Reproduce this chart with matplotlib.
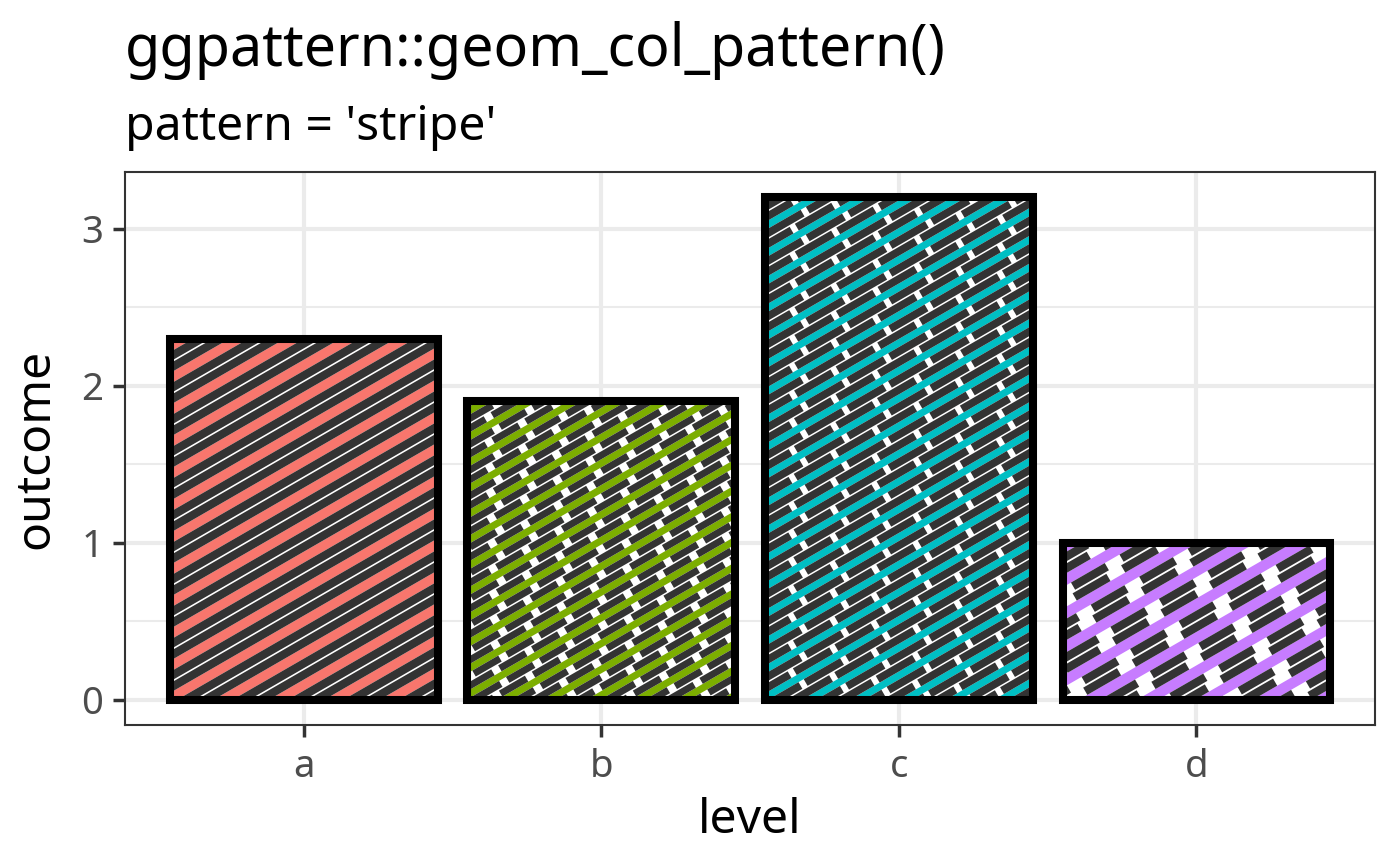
"""
Bar chart with striped fills, after ggpattern::geom_col_pattern()
"""

import matplotlib

matplotlib.use("Agg")
import matplotlib.pyplot as plt
import numpy as np
from matplotlib.collections import PolyCollection
from matplotlib.transforms import IdentityTransform

levels = ["a", "b", "c", "d"]
outcome = [2.3, 1.9, 3.2, 1.0]
fills = ["#F8766D", "#7CAE00", "#00BFC4", "#C77CFF"]

# stripe look per bar, in output pixels
# (period, fill band, centre line, dash length, gap, shift per period, 2nd row offset)
stripe_style = [
    dict(period=27.7, band=9.5, line=1.6, dash=None, gap=0, shift=0, off=0),
    dict(period=22.3, band=7.0, line=1.5, dash=30, gap=8, shift=12, off=13),
    dict(period=24.0, band=7.0, line=1.5, dash=42, gap=6, shift=14, off=18),
    dict(period=29.0, band=10.5, line=1.8, dash=39, gap=17, shift=-6, off=4),
]
ANGLE = np.deg2rad(30)
DARK = "#333333"

plt.rcParams["font.family"] = ["Noto Sans", "DejaVu Sans"]

W, H, DPI = 1400, 866, 200
fig = plt.figure(figsize=(W / DPI, H / DPI), dpi=DPI)
ax = fig.add_axes([125 / W, (H - 725) / H, 1250 / W, (725 - 172) / H])

x = np.arange(1, len(levels) + 1)
ax.set_xlim(0.4, 4.6)
ax.set_ylim(-0.16, 3.36)

# grid
for yv in [0.5, 1.5, 2.5]:
    ax.axhline(yv, color="#EBEBEB", lw=0.75, zorder=0)
for yv in [0, 1, 2, 3]:
    ax.axhline(yv, color="#EBEBEB", lw=1.5, zorder=0)
for xv in x:
    ax.axvline(xv, color="#EBEBEB", lw=1.5, zorder=0)

bars = ax.bar(x, outcome, width=0.9, color=fills, linewidth=0, zorder=2)

d = np.array([np.cos(ANGLE), np.sin(ANGLE)])
n = np.array([-np.sin(ANGLE), np.cos(ANGLE)])


def quad(s0, s1, t0, t1):
    return [s0 * d + t0 * n, s1 * d + t0 * n, s1 * d + t1 * n, s0 * d + t1 * n]


for bar, st in zip(bars, stripe_style):
    corners = ax.transData.transform(bar.get_bbox().get_points())
    (x0, y0), (x1, y1) = corners
    pts = np.array([[x0, y0], [x1, y0], [x1, y1], [x0, y1]])
    s_all, t_all = pts @ d, pts @ n
    smin, smax = s_all.min() - 60, s_all.max() + 60
    P = st["period"]
    th = (P - st["band"] - st["line"]) / 2
    white, dark = [], []
    k0 = int(np.floor(t_all.min() / P)) - 1
    k1 = int(np.ceil(t_all.max() / P)) + 1
    for k in range(k0, k1):
        t = k * P + st["band"]
        rows = [(t, t + th, 0.0), (t + th + st["line"], P * (k + 1), st["off"])]
        white.append(quad(smin, smax, t, P * (k + 1)))
        for ta, tb, off in rows:
            if st["dash"] is None:
                dark.append(quad(smin, smax, ta, tb))
            else:
                step = st["dash"] + st["gap"]
                phase = (k * st["shift"] + off) % step
                s = smin + phase - step
                while s < smax:
                    dark.append(quad(s, s + st["dash"], ta, tb))
                    s += step
    for polys, col, z in [(white, "white", 2.1), (dark, DARK, 2.2)]:
        pc = PolyCollection(polys, facecolors=col, edgecolors="none",
                            transform=IdentityTransform(), zorder=z)
        ax.add_collection(pc, autolim=False)
        pc.set_clip_path(bar.get_path(), bar.get_transform())

# outlines on top
ax.bar(x, outcome, width=0.9, fill=False, edgecolor="black", linewidth=2.9, zorder=3)

ax.set_xticks(x)
ax.set_xticklabels(levels)
ax.set_yticks([0, 1, 2, 3])
for sp in ax.spines.values():
    sp.set_color("#333333")
    sp.set_linewidth(0.75)
ax.tick_params(axis="both", colors="#333333", width=1.25, length=4.3,
               labelsize=13.8, labelcolor="#4D4D4D")
ax.tick_params(axis="x", pad=4)
ax.tick_params(axis="y", pad=3.5)
ax.set_xlabel("level", fontsize=17.3, labelpad=4)
ax.set_ylabel("outcome", fontsize=17.3, labelpad=8)

fig.text(125 / W, 1 - 66 / H, "ggpattern::geom_col_pattern()", fontsize=20.7,
         va="baseline", ha="left")
fig.text(125 / W, 1 - 140 / H, "pattern = 'stripe'", fontsize=17.3,
         va="baseline", ha="left")

fig.savefig("out.png", dpi=DPI)
